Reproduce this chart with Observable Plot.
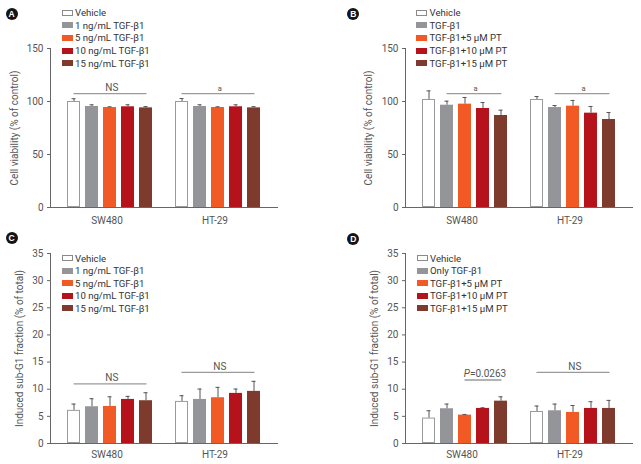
<!DOCTYPE html>
<html><head><meta charset="utf-8">
<script src="https://cdn.jsdelivr.net/npm/d3@7"></script>
<script src="https://cdn.jsdelivr.net/npm/@observablehq/plot@0.6"></script>
<style>
body{margin:0;background:#fff;}
#fig{position:relative;width:641px;height:464px;overflow:hidden;font-family:Roboto,"Liberation Sans",sans-serif;color:#444;}
.panel{position:absolute;}
.letter{position:absolute;width:12px;height:12px;border-radius:50%;background:#151515;color:#fff;font:bold 8.5px "Liberation Sans",Arial,sans-serif;display:flex;align-items:center;justify-content:center;}
.row{position:absolute;display:flex;align-items:center;white-space:nowrap;height:12px;font-size:9.6px;color:#333;}
.sw{width:11px;height:6px;margin-right:2.5px;box-sizing:border-box;}
</style></head><body><div id="fig"></div><script>
// ---------- data ----------
const groups = ["SW480", "HT-29"];
const seriesDose = ["Vehicle", "1 ng/mL TGF-β1", "5 ng/mL TGF-β1", "10 ng/mL TGF-β1", "15 ng/mL TGF-β1"];
const seriesPT = ["Vehicle", "TGF-β1", "TGF-β1+5 μM PT", "TGF-β1+10 μM PT", "TGF-β1+15 μM PT"];
const seriesPTOnly = ["Vehicle", "Only TGF-β1", "TGF-β1+5 μM PT", "TGF-β1+10 μM PT", "TGF-β1+15 μM PT"];
const barColors = ["#ffffff", "#939598", "#f15a24", "#b5121b", "#7d3a2d"];

// Panel A: cell viability, TGF-β1 dose
const viabDoseSW480 = [100, 95.3, 94.3, 95.0, 94.0];
const viabDoseSW480SD = [2.6, 1.6, 0.7, 1.9, 1.2];
const viabDoseHT29 = [100, 95.3, 94.3, 95.0, 94.0];
const viabDoseHT29SD = [2.8, 1.6, 0.7, 1.9, 1.1];
// Panel B: cell viability, TGF-β1 + PT
const viabPTSW480 = [101.9, 96.5, 97.5, 93.4, 86.8];
const viabPTSW480SD = [8.1, 3.8, 6.3, 5.6, 5.0];
const viabPTHT29 = [101.9, 94.3, 95.6, 89.0, 83.0];
const viabPTHT29SD = [2.8, 1.9, 5.4, 6.3, 6.6];
// Panel C: sub-G1 fraction, TGF-β1 dose
const subG1DoseSW480 = [6.1, 6.77, 6.83, 8.12, 7.88];
const subG1DoseSW480SD = [1.16, 1.48, 1.77, 0.56, 1.47];
const subG1DoseHT29 = [7.75, 8.12, 8.43, 9.23, 9.6];
const subG1DoseHT29SD = [1.05, 1.91, 1.91, 0.8, 1.85];
// Panel D: sub-G1 fraction, TGF-β1 + PT
const subG1PTSW480 = [4.68, 6.4, 5.23, 6.46, 7.8];
const subG1PTSW480SD = [1.35, 0.86, 0.12, 0.12, 0.8];
const subG1PTHT29 = [5.9, 6.03, 5.72, 6.46, 6.46];
const subG1PTHT29SD = [1.0, 1.23, 1.28, 1.24, 1.48];

const viabTicks = [0, 50, 100, 150];
const subG1Ticks = [0, 5, 10, 15, 20, 25, 30, 35];

// significance brackets: group, first/last bar index, level, label
const bracketsA = [{group: "SW480", from: 0, to: 4, y: 107.5, label: "NS", size: 10},
                   {group: "HT-29", from: 0, to: 4, y: 107.5, label: "a", size: 7.5}];
const bracketsB = [{group: "SW480", from: 1, to: 4, y: 107.5, label: "a", size: 7.5},
                   {group: "HT-29", from: 1, to: 4, y: 107.5, label: "a", size: 7.5}];
const bracketsC = [{group: "SW480", from: 0, to: 4, y: 11.0, label: "NS", size: 10},
                   {group: "HT-29", from: 0, to: 4, y: 13.1, label: "NS", size: 10}];
const bracketsD = [{group: "SW480", from: 2, to: 4, y: 11.7, italic: "P", label: "=0.0263", size: 10},
                   {group: "HT-29", from: 0, to: 4, y: 13.1, label: "NS", size: 10}];

// ---------- layout ----------
const panels = [
  {letter: "A", series: seriesDose, means: {"SW480": viabDoseSW480, "HT-29": viabDoseHT29}, sds: {"SW480": viabDoseSW480SD, "HT-29": viabDoseHT29SD},
   ticks: viabTicks, yLabel: "Cell viability (% of control)", brackets: bracketsA,
   left: 0, top: 0, width: 320, height: 232, ml: 50, mr: 43, mt: 48, mb: 25, labelOffset: 40, xPad: 9,
   legendX: 61.5, legendY: 12.7, letterX: 11.7, letterY: 14},
  {letter: "B", series: seriesPT, means: {"SW480": viabPTSW480, "HT-29": viabPTHT29}, sds: {"SW480": viabPTSW480SD, "HT-29": viabPTHT29SD},
   ticks: viabTicks, yLabel: "Cell viability (% of control)", brackets: bracketsB,
   left: 320, top: 0, width: 321, height: 232, ml: 85, mr: 9, mt: 48, mb: 25, labelOffset: 41, xPad: 9,
   legendX: 96, legendY: 12.7, letterX: 33.3, letterY: 14},
  {letter: "C", series: seriesDose, means: {"SW480": subG1DoseSW480, "HT-29": subG1DoseHT29}, sds: {"SW480": subG1DoseSW480SD, "HT-29": subG1DoseHT29SD},
   ticks: subG1Ticks, yLabel: "Induced sub-G1 fraction (% of total)", brackets: bracketsC,
   left: 0, top: 232, width: 320, height: 232, ml: 50, mr: 43, mt: 21, mb: 21, labelOffset: 35, xPad: 7,
   legendX: 61.5, legendY: 26, letterX: 11.7, letterY: 6.3},
  {letter: "D", series: seriesPTOnly, means: {"SW480": subG1PTSW480, "HT-29": subG1PTHT29}, sds: {"SW480": subG1PTSW480SD, "HT-29": subG1PTHT29SD},
   ticks: subG1Ticks, yLabel: "Induced sub-G1 fraction (% of total)", brackets: bracketsD,
   left: 320, top: 232, width: 321, height: 232, ml: 85, mr: 9, mt: 21, mb: 21, labelOffset: 35, xPad: 7,
   legendX: 96.5, legendY: 26, letterX: 33.3, letterY: 6.7}
];

const fig = document.getElementById("fig");
const PI = 0.26, PO = 0.62;

for (const cfg of panels) {
  const keys = [];
  groups.forEach((g, gi) => { if (gi) keys.push("gap"); cfg.series.forEach((s, si) => keys.push(g + "|" + si)); });
  const rows = [];
  groups.forEach(g => cfg.series.forEach((s, si) => rows.push({group: g, series: s, key: g + "|" + si, mean: cfg.means[g][si], sd: cfg.sds[g][si]})));
  const step = (cfg.width - cfg.ml - cfg.mr) / (keys.length - PI + 2 * PO);
  const yMax = cfg.ticks[cfg.ticks.length - 1];

  const bracketMarks = cfg.brackets.flatMap(b => {
    const pts = [b.from, b.to].map(i => ({key: b.group + "|" + i, y: b.y}));
    const dxMid = (b.to - b.from) / 2 * step;
    const base = {x: d => b.group + "|" + b.from, y: "y", dy: -2.5, lineAnchor: "bottom", fontSize: b.size, fill: "#555"};
    const m = [Plot.line(pts, {x: "key", y: "y", stroke: "#9a9a9a", strokeWidth: 1.3})];
    if (b.italic) {
      m.push(Plot.text([b], {...base, text: d => d.italic, fontStyle: "italic", textAnchor: "end", dx: dxMid - 14}));
      m.push(Plot.text([b], {...base, text: d => d.label, textAnchor: "start", dx: dxMid - 14}));
    } else {
      m.push(Plot.text([b], {...base, text: d => d.label, textAnchor: "middle", dx: dxMid}));
    }
    return m;
  });

  const chart = Plot.plot({
    width: cfg.width, height: cfg.height,
    marginLeft: cfg.ml, marginRight: cfg.mr, marginTop: cfg.mt, marginBottom: cfg.mb,
    style: {fontFamily: "Roboto, 'Liberation Sans', sans-serif", fontSize: "10px", color: "#555", background: "transparent", overflow: "visible"},
    x: {type: "band", domain: keys, paddingInner: PI, paddingOuter: PO},
    y: {domain: [0, yMax]},
    color: {domain: cfg.series, range: barColors},
    marks: [
      Plot.barY(rows, {x: "key", y: "mean", fill: "series"}),
      Plot.barY(rows.filter(d => d.series === cfg.series[0]), {x: "key", y: "mean", fill: "white", stroke: "#9b9b9b", inset: 0.5}),
      Plot.ruleX(rows, {x: "key", y1: "mean", y2: d => d.mean + d.sd, stroke: "#555", strokeWidth: 1}),
      Plot.tickY(rows, {x: "key", y: d => d.mean + d.sd, stroke: "#555", strokeWidth: 1, insetLeft: 4.5, insetRight: 4.5}),
      ...bracketMarks,
      Plot.frame({anchor: "left", stroke: "#666"}),
      Plot.frame({anchor: "bottom", stroke: "#666"}),
      Plot.axisY({ticks: cfg.ticks, tickSize: 3, tickPadding: 4, stroke: "#666", label: cfg.yLabel, labelAnchor: "center", labelOffset: cfg.labelOffset, labelArrow: "none"}),
      Plot.axisX({ticks: groups.map(g => g + "|2"), tickFormat: k => k.split("|")[0], tickSize: 0, tickPadding: cfg.xPad, dx: -3, label: null})
    ]
  });
  const holder = document.createElement("div");
  holder.className = "panel";
  holder.style.left = cfg.left + "px";
  holder.style.top = cfg.top + "px";
  holder.appendChild(chart);
  fig.appendChild(holder);

  // panel letter
  const L = document.createElement("div");
  L.className = "letter";
  L.textContent = cfg.letter;
  L.style.left = (cfg.left + cfg.letterX - 6) + "px";
  L.style.top = (cfg.top + cfg.letterY - 6) + "px";
  fig.appendChild(L);

  // legend
  cfg.series.forEach((s, i) => {
    const r = document.createElement("div");
    r.className = "row";
    r.style.left = (cfg.left + cfg.legendX) + "px";
    r.style.top = (cfg.top + cfg.legendY + i * 12.6 - 6) + "px";
    const sw = document.createElement("span");
    sw.className = "sw";
    sw.style.background = barColors[i];
    if (i === 0) sw.style.border = "1px solid #8a8a8a";
    const t = document.createElement("span");
    t.textContent = s;
    r.appendChild(sw); r.appendChild(t);
    fig.appendChild(r);
  });
}
</script></body></html>
